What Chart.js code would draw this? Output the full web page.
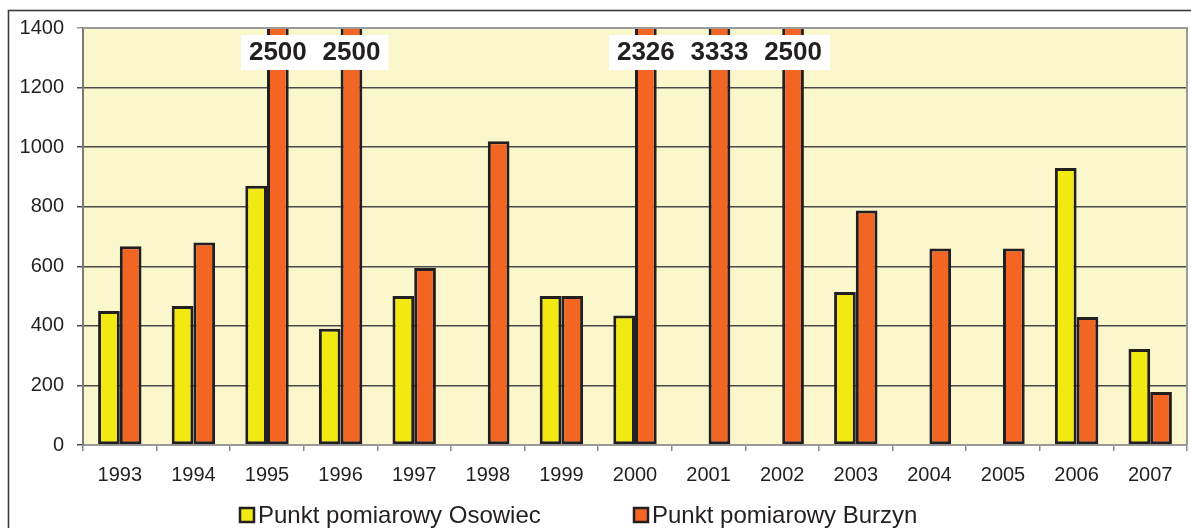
<!DOCTYPE html>
<html>
<head>
<meta charset="utf-8">
<script src="https://cdn.jsdelivr.net/npm/chart.js@4.4.1/dist/chart.umd.min.js"></script>
<style>
    body { margin: 0; background: #fff; }
    #chart { display: block; }
</style>
</head>
<body>
<canvas id="chart" width="1191" height="528"></canvas>
<script>
'use strict'

/**
 * Data
 */

const years = ['1993', '1994', '1995', '1996', '1997', '1998', '1999', '2000',
    '2001', '2002', '2003', '2004', '2005', '2006', '2007'];
const osowiec = [450, 467, 870, 390, 500, null, 500, 435, null, null, 514, null, null, 930, 322];
const burzyn = [667, 680, 2500, 2500, 594, 1020, 500, 2326, 3333, 2500, 787, 660, 660, 430, 178];
const seriesNames = ['Punkt pomiarowy Osowiec', 'Punkt pomiarowy Burzyn'];
const yMin = 0;
const yMax = 1400;
const yStep = 200;

const yellow = '#f2e912';
const orange = '#f26522';
const ink = '#231f20';
const fontName = '"Liberation Sans", Arial, sans-serif';

/**
 * Plugins
 */

// frame round the whole picture + plot background
let backdrop = {
    id: 'backdrop',
    beforeDraw: function (chart) {
        let ctx = chart.ctx;
        let a = chart.chartArea;
        ctx.save();
        ctx.fillStyle = '#fff';
        ctx.fillRect(0, 0, chart.width, chart.height);
        ctx.strokeStyle = '#3c3c3c';
        ctx.lineWidth = 1.6;
        ctx.strokeRect(8.5, 10.5, chart.width + 20, chart.height + 20);
        ctx.fillStyle = '#faf7cd';
        ctx.fillRect(a.left, a.top, a.right - a.left, a.bottom - a.top);
        ctx.restore();
    },
    afterDraw: function (chart) {
        let ctx = chart.ctx;
        let a = chart.chartArea;
        ctx.save();
        ctx.strokeStyle = '#9a9a9a';
        ctx.lineWidth = 2;
        ctx.beginPath();
        ctx.moveTo(a.left, a.top);
        ctx.lineTo(a.right, a.top);
        ctx.lineTo(a.right, a.bottom);
        ctx.stroke();
        ctx.restore();
    }
};

// white boxes with the values of bars that run off the top
let overflowLabels = {
    id: 'overflowLabels',
    afterDatasetsDraw: function (chart) {
        let ctx = chart.ctx;
        let a = chart.chartArea;
        ctx.save();
        ctx.font = 'bold 26px ' + fontName;
        ctx.textAlign = 'center';
        ctx.textBaseline = 'middle';
        chart.data.datasets.forEach(function (ds, di) {
            let meta = chart.getDatasetMeta(di);
            ds.data.forEach(function (v, i) {
                if (v === null || v <= yMax) return;
                let bar = meta.data[i];
                let cy = a.top + 24;
                ctx.fillStyle = '#fff';
                ctx.fillRect(bar.x - 37, cy - 17, 74, 35);
                ctx.fillStyle = ink;
                ctx.fillText(String(v), bar.x, cy + 1);
            });
        });
        ctx.restore();
    }
};

// legend drawn by hand under the axis
let legendBelow = {
    id: 'legendBelow',
    afterDraw: function (chart) {
        let ctx = chart.ctx;
        let starts = [240, 634];
        let y = 515;
        ctx.save();
        ctx.font = '24px ' + fontName;
        ctx.textBaseline = 'middle';
        chart.data.datasets.forEach(function (ds, i) {
            ctx.fillStyle = ds.backgroundColor;
            ctx.fillRect(starts[i], y - 7, 14, 14);
            ctx.strokeStyle = ink;
            ctx.lineWidth = 2.5;
            ctx.strokeRect(starts[i], y - 7, 14, 14);
            ctx.fillStyle = ink;
            ctx.fillText(ds.label, starts[i] + 18, y + 1);
        });
        ctx.restore();
    }
};

/**
 * Chart
 */

let ctx = document.getElementById('chart');
let myChart = new Chart(ctx, {
    type: 'bar',
    data: {
        labels: years,
        datasets: [{
            label: seriesNames[0],
            data: osowiec,
            backgroundColor: yellow,
            borderColor: ink,
            borderWidth: 3,
            borderSkipped: false
        }, {
            label: seriesNames[1],
            data: burzyn,
            backgroundColor: orange,
            borderColor: ink,
            borderWidth: 3,
            borderSkipped: false
        }]
    },
    options: {
        responsive: false,
        animation: false,
        devicePixelRatio: 1,
        layout: {
            padding: { left: 0, top: 28, right: 4, bottom: 33 }
        },
        datasets: {
            bar: {
                barPercentage: 1,
                categoryPercentage: 0.59
            }
        },
        plugins: {
            legend: { display: false },
            tooltip: { enabled: false }
        },
        scales: {
            x: {
                grid: {
                    offset: true,
                    drawOnChartArea: false,
                    tickLength: 6,
                    color: '#8a8a8a',
                    lineWidth: 1.5
                },
                border: { color: '#9a9a9a', width: 2 },
                ticks: {
                    color: ink,
                    font: { family: fontName, size: 20 },
                    padding: 12
                },
                afterFit: function (scale) { scale.height = 50; }
            },
            y: {
                min: yMin,
                max: yMax,
                grid: {
                    tickLength: 6,
                    lineWidth: 1.5,
                    color: function (c) {
                        if (c.tick.value === yMax) return '#9a9a9a';
                        return '#4a4a4a';
                    }
                },
                border: { color: '#7a7a7a', width: 2 },
                ticks: {
                    stepSize: yStep,
                    color: ink,
                    font: { family: fontName, size: 20 },
                    padding: 13,
                    callback: function (v) { return String(v); }
                },
                afterFit: function (scale) { scale.width = 83; }
            }
        }
    },
    plugins: [backdrop, overflowLabels, legendBelow]
});
</script>
</body>
</html>
